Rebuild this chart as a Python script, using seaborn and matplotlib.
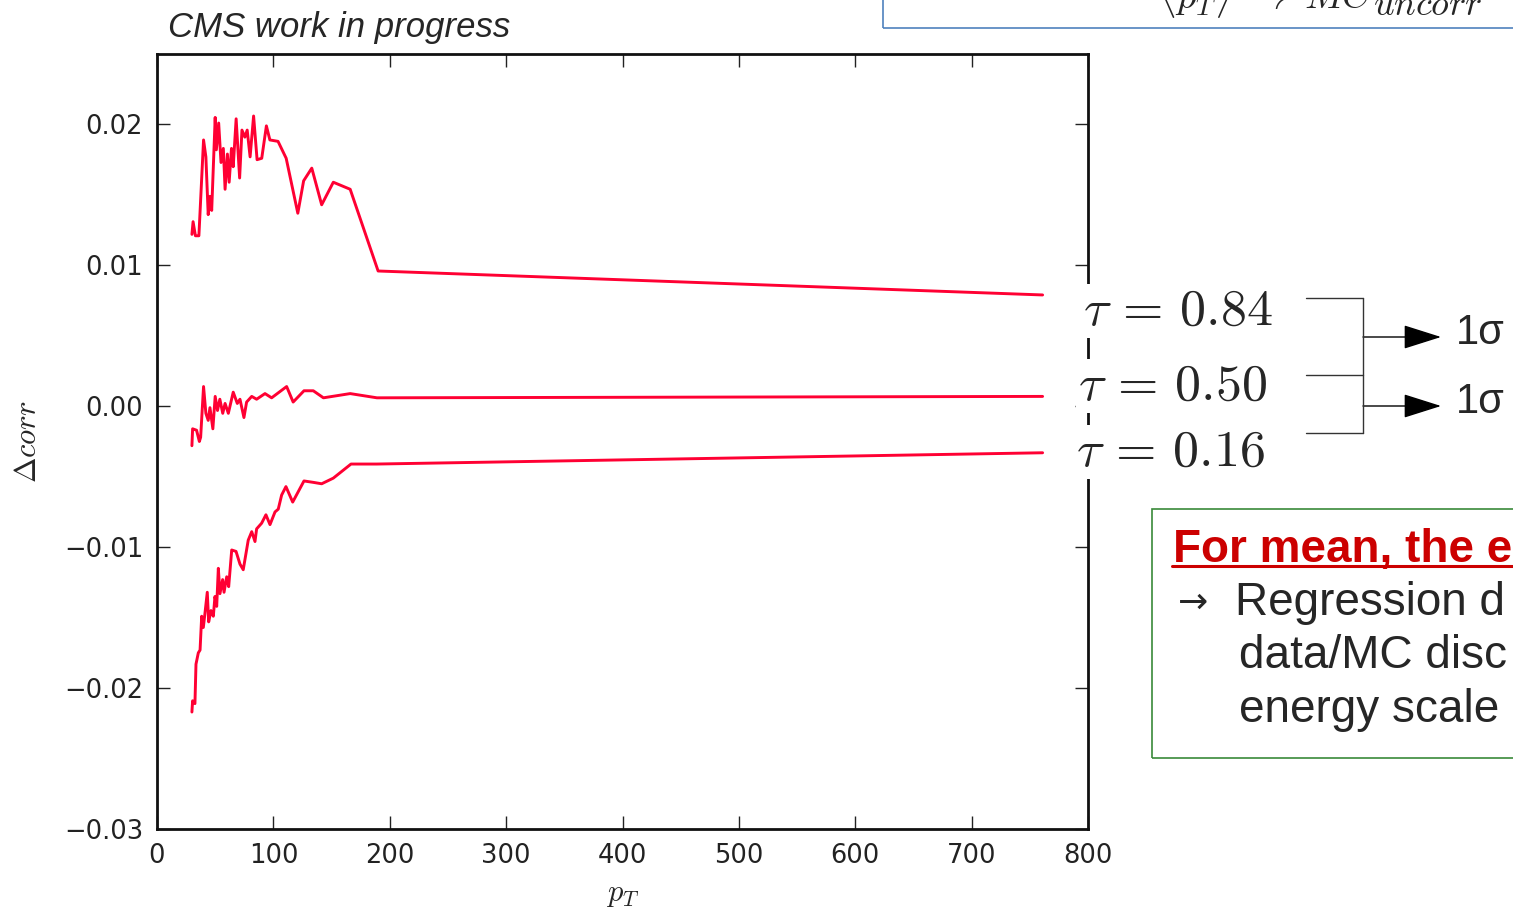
import numpy as np
import pandas as pd
import matplotlib
matplotlib.use("Agg")
import matplotlib.pyplot as plt
from matplotlib.patches import Rectangle, FancyArrowPatch
from matplotlib.lines import Line2D
import seaborn as sns

W, H = 1513, 916

# tau = 0.84
pt_84 = [30, 31, 33, 36, 40, 42, 44, 45.5, 47, 50, 51, 53, 55, 57, 58.5, 60.5, 62, 64, 65.5,
         68, 71, 73, 75.5, 77.5, 80, 83, 86, 90, 94, 97, 104, 111, 121, 126, 133, 141.5,
         151.5, 166, 190, 761]
corr_84 = [0.0122, 0.0131, 0.0121, 0.0121, 0.0189, 0.0177, 0.0136, 0.0149, 0.0139, 0.0205,
           0.0182, 0.0201, 0.0173, 0.0183, 0.0154, 0.0179, 0.0159, 0.0183, 0.0170, 0.0204,
           0.0162, 0.0196, 0.0191, 0.0196, 0.0177, 0.0206, 0.0175, 0.0176, 0.0199, 0.0189,
           0.0188, 0.0176, 0.0137, 0.0160, 0.0169, 0.0143, 0.0159, 0.0154, 0.0096, 0.0079]

# tau = 0.50
pt_50 = [30, 30.6, 34, 36.4, 37.5, 40, 42, 44, 45.5, 48, 50, 52, 54, 56.5, 58.5, 61.3, 65.5,
         69, 71.3, 74.7, 77, 81.4, 85.6, 92.8, 98.5, 111.4, 117, 126.3, 134.3, 143, 166, 189, 761]
corr_50 = [-0.0028, -0.0016, -0.0017, -0.0025, -0.0022, 0.0014, -0.0005, -0.0010, -0.0001,
           -0.0016, 0.0007, -0.0003, 0.0005, -0.0005, 0.0002, -0.0005, 0.0010, 0.0002, 0.0005,
           -0.0008, 0.0003, 0.0007, 0.0005, 0.0009, 0.0006, 0.0014, 0.0003, 0.0011, 0.0011,
           0.0006, 0.0009, 0.0006, 0.0007]

# tau = 0.16
pt_16 = [30, 30.6, 32.6, 33.5, 35.5, 37, 38.4, 39.8, 41.2, 43.2, 44.4, 46.4, 48.4, 49.8, 51.3,
         52.7, 54.1, 56.4, 57.6, 59.9, 61.6, 64.2, 67.9, 71.3, 74.1, 78.4, 81.4, 84.2, 85.6,
         89.9, 93.6, 97.1, 101.4, 104.2, 107.1, 110.8, 116.6, 126.3, 134.3, 141.5, 151.5,
         166.7, 188.7, 761]
corr_16 = [-0.0217, -0.0209, -0.0211, -0.0183, -0.0175, -0.0173, -0.0149, -0.0157, -0.0147,
           -0.0132, -0.0153, -0.0145, -0.0149, -0.0135, -0.0142, -0.0115, -0.0133, -0.0123,
           -0.0132, -0.0121, -0.0128, -0.0102, -0.0103, -0.0112, -0.0116, -0.0095, -0.0089,
           -0.0096, -0.0087, -0.0083, -0.0077, -0.0084, -0.0075, -0.0073, -0.0063, -0.0057,
           -0.0068, -0.0053, -0.0054, -0.0055, -0.0051, -0.0041, -0.0041, -0.0033]

x_ticks = [0, 100, 200, 300, 400, 500, 600, 700, 800]
y_ticks = [-0.03, -0.02, -0.01, 0.00, 0.01, 0.02]
y_ticklabels = ["\u22120.03", "\u22120.02", "\u22120.01", "0.00", "0.01", "0.02"]
tau_labels = [r"$\tau \,=\, 0.84$", r"$\tau \,=\, 0.50$", r"$\tau \,=\, 0.16$"]
note_lines = ["Regression d", "data/MC disc", "energy scale"]

red = "#ff0033"


def fx(x):
    return x / W


def fy(y):
    return 1 - y / H


sns.set_style("ticks")
plt.rcParams["font.family"] = ["DejaVu Sans"]
plt.rcParams["mathtext.fontset"] = "cm"
sans = ["Liberation Sans", "DejaVu Sans"]

df = pd.concat([
    pd.DataFrame({"pt": pt_84, "corr": corr_84, "tau": "0.84"}),
    pd.DataFrame({"pt": pt_50, "corr": corr_50, "tau": "0.50"}),
    pd.DataFrame({"pt": pt_16, "corr": corr_16, "tau": "0.16"}),
])

fig = plt.figure(figsize=(W / 100, H / 100), dpi=100)
ax = fig.add_axes([fx(157), fy(829), (1088 - 157) / W, (829 - 54) / H])
sns.lineplot(data=df, x="pt", y="corr", hue="tau", palette=[red] * 3, estimator=None,
             sort=False, legend=False, linewidth=2.1, ax=ax)

ax.set_xlim(0, 800)
ax.set_ylim(-0.03, 0.025)
ax.set_xticks(x_ticks)
ax.set_yticks(y_ticks)
ax.set_yticklabels(y_ticklabels)
ax.tick_params(direction="in", length=9.5, width=1, top=True, right=True,
               labelsize=18.5, pad=10, colors="#222222")
for s in ax.spines.values():
    s.set_linewidth(2)
    s.set_color("#111111")
ax.set_xlabel(r"$p_T$", fontsize=22, labelpad=8)
ax.set_ylabel(r"$\Delta corr$", fontsize=22, labelpad=16)

fig.text(fx(168), fy(28), "CMS work in progress", fontsize=25, style="italic",
         family=sans, va="center", ha="left")

# top box, cut by the page edge
fig.add_artist(Rectangle((fx(883), fy(28)), 1, 0.1, transform=fig.transFigure,
                         fill=False, edgecolor="#4f81bd", linewidth=1.2))
fig.text(fx(1373), fy(8), r"$\langle p_T \rangle \;\rightarrow\; MC$", fontsize=28,
         ha="right", va="baseline")
fig.text(fx(1373), fy(15), r"$uncorr$", fontsize=26, ha="left", va="baseline")

# tau labels
for lab, yy, xx in zip(tau_labels, [311, 386, 452], [1083, 1078, 1076]):
    fig.text(fx(xx), fy(yy), lab, fontsize=37.5, ha="left", va="center",
             bbox=dict(facecolor="white", edgecolor="none", pad=1))

# bracket
lc = "#333333"
for yy in [298, 375, 433]:
    fig.add_artist(Line2D([fx(1306), fx(1363)], [fy(yy), fy(yy)], color=lc, linewidth=1))
fig.add_artist(Line2D([fx(1363), fx(1363)], [fy(298), fy(433)], color=lc, linewidth=1))
for yy in [337, 406]:
    fig.add_artist(FancyArrowPatch((fx(1363), fy(yy)), (fx(1441), fy(yy)),
                                   transform=fig.transFigure,
                                   arrowstyle="-|>,head_length=1.2,head_width=0.38",
                                   mutation_scale=20, color="black", linewidth=1,
                                   shrinkA=0, shrinkB=0))
    fig.text(fx(1456), fy(yy - 4), "1\u03c3", fontsize=30, family=sans,
             ha="left", va="center")

# green note box
fig.add_artist(Rectangle((fx(1152), fy(758)), 0.5, (758 - 509) / H, transform=fig.transFigure,
                         fill=False, edgecolor="#3a8a3a", linewidth=1.2))
fig.text(fx(1173), fy(562), "For mean, the e", fontsize=33, fontweight="bold",
         color="#cc0000", family=sans, ha="left", va="baseline")
fig.add_artist(Line2D([fx(1172), fx(1520)], [fy(566), fy(566)], color="#cc0000", linewidth=2.2))
fig.text(fx(1178), fy(603), "\u2192", fontsize=26, family=["DejaVu Sans"], ha="left", va="center")
for txt, yy in zip(note_lines, [615, 668, 722]):
    xx = 1235 if yy == 615 else 1239
    fig.text(fx(xx), fy(yy), txt, fontsize=33, family=sans, ha="left", va="baseline")

fig.savefig("out.png", dpi=100)
